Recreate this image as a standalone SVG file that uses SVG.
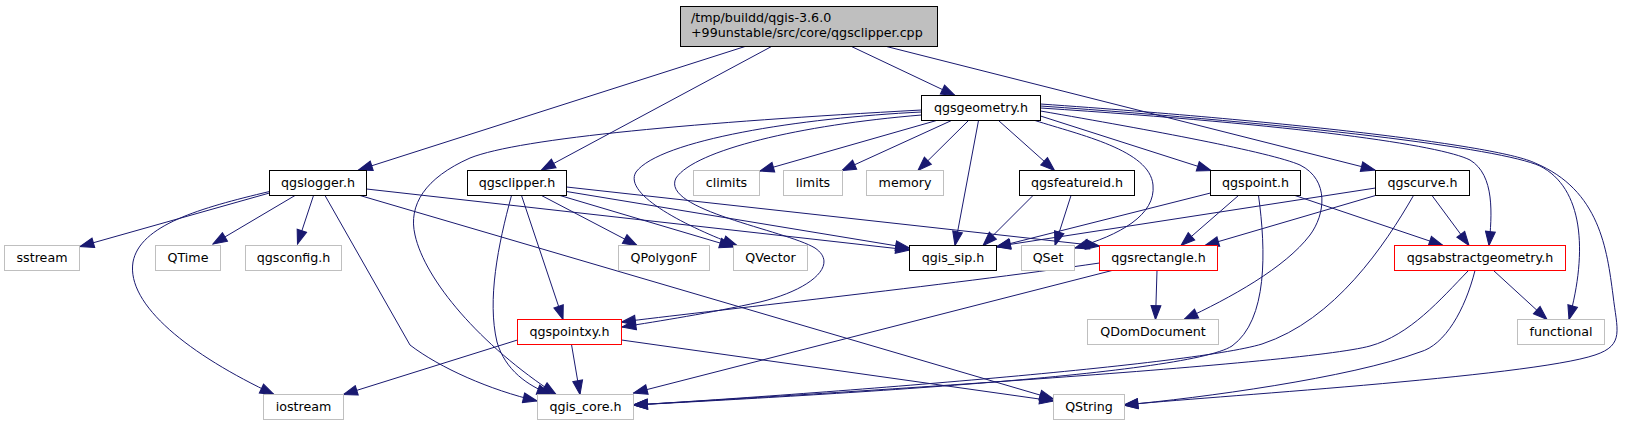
<svg xmlns="http://www.w3.org/2000/svg" width="1627" height="425" viewBox="0 0 1627 425">
<style>
.n rect{fill:#fff;stroke:#000;stroke-width:1}
.n.root rect{fill:#bfbfbf}
.n.g rect{stroke:#bfbfbf}
.n.r rect{stroke:#ff0000}
text{font-family:"DejaVu Sans","Liberation Sans",sans-serif;font-size:12.67px;fill:#000;text-anchor:middle}
.root text{text-anchor:start}
#edges path{fill:none;stroke:#191970;stroke-width:1;marker-end:url(#a)}
</style>
<defs>
<marker id="a" markerUnits="userSpaceOnUse" markerWidth="16" markerHeight="12" refX="13" refY="4.6" orient="auto" viewBox="-1 -1 15 11">
<path d="M0,0 L13,4.6 L0,9.2 z" fill="#191970" stroke="#191970" stroke-width="1"/>
</marker>
</defs>
<rect width="1627" height="425" fill="#fff"/>
<g id="edges">
<path d="M745,46.5 L358.5,170"/>
<path d="M771.5,46.5 L541.5,170"/>
<path d="M851.5,46.5 L955,95.5"/>
<path d="M886.5,46.5 L1375,170"/>
<path d="M936.5,120.5 L760,171"/>
<path d="M951.5,120.5 L842,170.5"/>
<path d="M968.5,120.5 L918,170.5"/>
<path d="M978.5,120.5 L955,245.5"/>
<path d="M998.5,120.5 L1054.5,170.5"/>
<path d="M1040.5,116 L1211,170.5"/>
<path d="M1040.5,111 C1150,130 1270,152 1300,165 C1330,180 1325,215 1310,235 C1285,268 1230,298 1184,319.5"/>
<path d="M1035,120.5 C1080,135 1150,150 1153,185 C1156,215 1120,235 1075,248"/>
<path d="M921.5,112 C800,118 660,140 636,172 C622,195 690,228 737,245.5"/>
<path d="M921.5,115 C800,125 695,150 676,178 C660,210 785,230 815,248 C840,265 810,290 760,302 C710,313 660,321 622,327"/>
<path d="M921.5,110 C700,122 520,138 470,158 C425,178 408,205 415,235 C425,280 480,345 556,394.5"/>
<path d="M1040.5,108 C1300,125 1440,145 1470,160 C1495,175 1492,215 1489,245.5"/>
<path d="M1040.5,106 C1300,124 1500,148 1540,166 C1583,188 1588,250 1569,319.5"/>
<path d="M1040.5,104 C1300,122 1500,146 1535,163 C1600,190 1607,250 1613,295 C1617,330 1625,345 1595,355 C1530,377 1200,397 1124,405"/>
<path d="M269.5,193 L80,246.5"/>
<path d="M269.5,191.5 C200,208 140,225 133,262 C126,305 190,355 274,394.5"/>
<path d="M295,195.5 L213,244"/>
<path d="M313.5,195.5 L297.5,244"/>
<path d="M325,195.5 L410,345 C440,368 490,390 537,401"/>
<path d="M366.5,189 L909.5,250"/>
<path d="M360,195.5 L1053.5,399"/>
<path d="M541.5,195.5 L637,245.5"/>
<path d="M560,195.5 L733.5,247"/>
<path d="M566.5,191.5 L909.5,248"/>
<path d="M566.5,187 L1099.5,246"/>
<path d="M521.5,195.5 L563,319.5"/>
<path d="M511.5,195.5 C498,245 487,300 497,342 C505,370 528,386 551,394.5"/>
<path d="M1033,195.5 L983,245.5"/>
<path d="M1071,195.5 L1055,245.5"/>
<path d="M1210.5,193 L996.5,247"/>
<path d="M1238.5,195.5 L1181,245.5"/>
<path d="M1258.5,195.5 C1266,250 1268,320 1232,346 C1185,376 800,396 633.5,405"/>
<path d="M1295,195.5 L1443,245.5"/>
<path d="M1375.5,188 L996.5,246.5"/>
<path d="M1375.5,195.5 L1205,245.5"/>
<path d="M1413.5,195.5 C1385,245 1335,320 1262,344 C1190,366 800,395 633.5,405"/>
<path d="M1432,195.5 L1469,245.5"/>
<path d="M1157,270.5 L1155.5,319.5"/>
<path d="M1099.5,263 C950,285 700,312 621.5,322"/>
<path d="M1112,270.5 L633.5,393"/>
<path d="M1493.5,270.5 L1547,319.5"/>
<path d="M1468.5,270.5 C1440,300 1410,335 1370,346 C1300,365 800,395 633.5,405"/>
<path d="M1475,270.5 C1465,310 1445,345 1420,352 C1350,378 1200,398 1124,405"/>
<path d="M517.5,340 L343.5,394.5"/>
<path d="M571.5,344.5 L580,394.5"/>
<path d="M621.5,340 L1053.5,401"/>
</g>
<g id="root" class="n root"><rect x="680.5" y="6.5" width="257" height="40"/><text x="691" y="21.8">/tmp/buildd/qgis-3.6.0</text><text x="691" y="37.2">+99unstable/src/core/qgsclipper.cpp</text></g>
<g id="qgsgeometry" class="n"><rect x="921.5" y="95.5" width="119" height="25"/><text x="981" y="112.2">qgsgeometry.h</text></g>
<g id="qgslogger" class="n"><rect x="269.5" y="170.5" width="97" height="25"/><text x="318" y="187.2">qgslogger.h</text></g>
<g id="qgsclipper" class="n"><rect x="467.5" y="170.5" width="99" height="25"/><text x="517" y="187.2">qgsclipper.h</text></g>
<g id="climits" class="n g"><rect x="693.5" y="170.5" width="66" height="25"/><text x="726.5" y="187.2">climits</text></g>
<g id="limits" class="n g"><rect x="783.5" y="170.5" width="59" height="25"/><text x="813" y="187.2">limits</text></g>
<g id="memory" class="n g"><rect x="866.5" y="170.5" width="77" height="25"/><text x="905" y="187.2">memory</text></g>
<g id="qgsfeatureid" class="n"><rect x="1019.5" y="170.5" width="115" height="25"/><text x="1077" y="187.2">qgsfeatureid.h</text></g>
<g id="qgspoint" class="n"><rect x="1210.5" y="170.5" width="90" height="25"/><text x="1255.5" y="187.2">qgspoint.h</text></g>
<g id="qgscurve" class="n"><rect x="1375.5" y="170.5" width="94" height="25"/><text x="1422.5" y="187.2">qgscurve.h</text></g>
<g id="sstream" class="n g"><rect x="4.5" y="245.5" width="75" height="25"/><text x="42" y="262.2">sstream</text></g>
<g id="QTime" class="n g"><rect x="155.5" y="245.5" width="65" height="25"/><text x="188" y="262.2">QTime</text></g>
<g id="qgsconfig" class="n g"><rect x="245.5" y="245.5" width="96" height="25"/><text x="293.5" y="262.2">qgsconfig.h</text></g>
<g id="QPolygonF" class="n g"><rect x="618.5" y="245.5" width="91" height="25"/><text x="664" y="262.2">QPolygonF</text></g>
<g id="QVector" class="n g"><rect x="733.5" y="245.5" width="74" height="25"/><text x="770.5" y="262.2">QVector</text></g>
<g id="qgis_sip" class="n"><rect x="909.5" y="245.5" width="87" height="25"/><text x="953" y="262.2">qgis_sip.h</text></g>
<g id="QSet" class="n g"><rect x="1021.5" y="245.5" width="53" height="25"/><text x="1048" y="262.2">QSet</text></g>
<g id="qgsrectangle" class="n r"><rect x="1099.5" y="245.5" width="118" height="25"/><text x="1158.5" y="262.2">qgsrectangle.h</text></g>
<g id="qgsabstractgeometry" class="n r"><rect x="1394.5" y="245.5" width="171" height="25"/><text x="1480" y="262.2">qgsabstractgeometry.h</text></g>
<g id="qgspointxy" class="n r"><rect x="517.5" y="319.5" width="104" height="25"/><text x="569.5" y="336.2">qgspointxy.h</text></g>
<g id="QDomDocument" class="n g"><rect x="1087.5" y="319.5" width="131" height="25"/><text x="1153" y="336.2">QDomDocument</text></g>
<g id="functional" class="n g"><rect x="1517.5" y="319.5" width="87" height="25"/><text x="1561" y="336.2">functional</text></g>
<g id="iostream" class="n g"><rect x="263.5" y="394.5" width="80" height="25"/><text x="303.5" y="411.2">iostream</text></g>
<g id="qgis_core" class="n g"><rect x="537.5" y="394.5" width="96" height="25"/><text x="585.5" y="411.2">qgis_core.h</text></g>
<g id="QString" class="n g"><rect x="1053.5" y="394.5" width="71" height="25"/><text x="1089" y="411.2">QString</text></g>
</svg>
